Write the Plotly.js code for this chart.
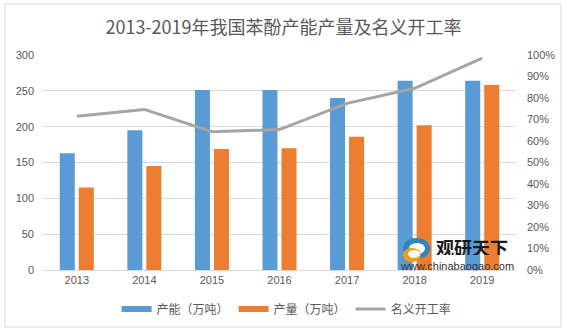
<!DOCTYPE html>
<html><head><meta charset="utf-8">
<script src="https://cdn.plot.ly/plotly-3.0.1.min.js"></script>
<style>body{margin:0;background:#fff}#c{width:567px;height:332px}</style>
</head><body><div id="c"></div>
<script>
var years = ['2013','2014','2015','2016','2017','2018','2019'];
var capacity = [163, 195, 251, 251, 240, 264, 264];
var output = [115, 145, 169, 170, 186, 202, 258];
var rate = [0.715, 0.747, 0.643, 0.653, 0.775, 0.845, 0.985];
var fontFam = 'Liberation Sans, Noto Sans CJK SC, sans-serif';
var cjk = 'Noto Sans CJK SC, sans-serif';
function px(X){return (X-43)/473;}
function py(Y){return (270-Y)/215;}
var data = [
  {type:'bar', name:'产能（万吨）', x:years, y:capacity, marker:{color:'#5B9BD5'}, showlegend:false},
  {type:'bar', name:'产量（万吨）', x:years, y:output, marker:{color:'#ED7D31'}, showlegend:false},
  {type:'scatter', mode:'lines', name:'名义开工率', x:years, y:rate, yaxis:'y2',
   line:{color:'#A5A5A5', width:3}, showlegend:false},
  {type:'scatter', mode:'lines', name:'产能（万吨）', x:[null], y:[null], line:{color:'#5B9BD5', width:6}},
  {type:'scatter', mode:'lines', name:'产量（万吨）', x:[null], y:[null], line:{color:'#ED7D31', width:6}},
  {type:'scatter', mode:'lines', name:'名义开工率', x:[null], y:[null], yaxis:'y2', line:{color:'#A5A5A5', width:3}}
];
var layout = {
  width:567, height:332,
  margin:{l:43, r:51, t:55, b:62},
  paper_bgcolor:'#fff', plot_bgcolor:'rgba(0,0,0,0)',
  showlegend:true,
  barmode:'group', bargap:0.437, bargroupgap:0.21,
  font:{family:fontFam, color:'#595959', size:11},
  title:{text:'2013-2019年我国苯酚产能产量及名义开工率', x:0.5, xref:'container', xanchor:'center',
         y:0.918, yref:'container', yanchor:'middle',
         font:{family:cjk, size:18, color:'#595959'}},
  xaxis:{type:'category', showgrid:false, showline:true, linecolor:'#D9D9D9', linewidth:1,
         ticks:'', tickfont:{size:11, color:'#595959'}, zeroline:false},
  yaxis:{range:[0,300], dtick:50, showgrid:true, gridcolor:'#D9D9D9', gridwidth:1,
         zeroline:false, ticks:'', ticklabelstandoff:8, tickfont:{size:11, color:'#595959'}},
  yaxis2:{overlaying:'y', side:'right', range:[0,1], dtick:0.1, tickformat:'.0%',
          showgrid:false, zeroline:false, ticks:'', ticklabelstandoff:10,
          tickfont:{size:11, color:'#595959'}},
  legend:{orientation:'h', x:0.515, xanchor:'center', yref:'container', y:1-309/332, yanchor:'middle',
          font:{family:cjk, size:12, color:'#595959'}, itemwidth:30, traceorder:'normal'},
  shapes:[
    {type:'rect', xref:'paper', yref:'paper', x0:-0.0803, x1:1.0951, y0:-0.265, y1:1.2372,
     line:{color:'#D9D9D9', width:1}, fillcolor:'rgba(0,0,0,0)', layer:'below'},
    {type:'circle', xref:'paper', yref:'paper', x0:px(403), x1:px(430), y0:py(259), y1:py(238),
     line:{width:0}, fillcolor:'#2E86C1'},
    {type:'circle', xref:'paper', yref:'paper', x0:px(409), x1:px(425), y0:py(254), y1:py(243),
     line:{width:0}, fillcolor:'#ffffff'},
    {type:'circle', xref:'paper', yref:'paper', x0:px(403), x1:px(421), y0:py(262), y1:py(248),
     line:{width:0}, fillcolor:'#F39C12'},
    {type:'circle', xref:'paper', yref:'paper', x0:px(408), x1:px(420), y0:py(258), y1:py(250),
     line:{width:0}, fillcolor:'#ffffff'}
  ],
  annotations:[
    {xref:'paper', yref:'paper', x:px(472), y:py(247), text:'<b>观研天下</b>', showarrow:false,
     font:{family:cjk, size:18, color:'#1a1a1a'}, xanchor:'center', yanchor:'middle', height:16},
    {xref:'paper', yref:'paper', x:px(457), y:py(265), text:'www.chinabaogao.com', showarrow:false,
     font:{family:'Liberation Sans, sans-serif', size:11, color:'#333'}, xanchor:'center', yanchor:'middle', height:11}
  ]
};
Plotly.newPlot('c', data, layout, {displayModeBar:false, staticPlot:true});
</script></body></html>
